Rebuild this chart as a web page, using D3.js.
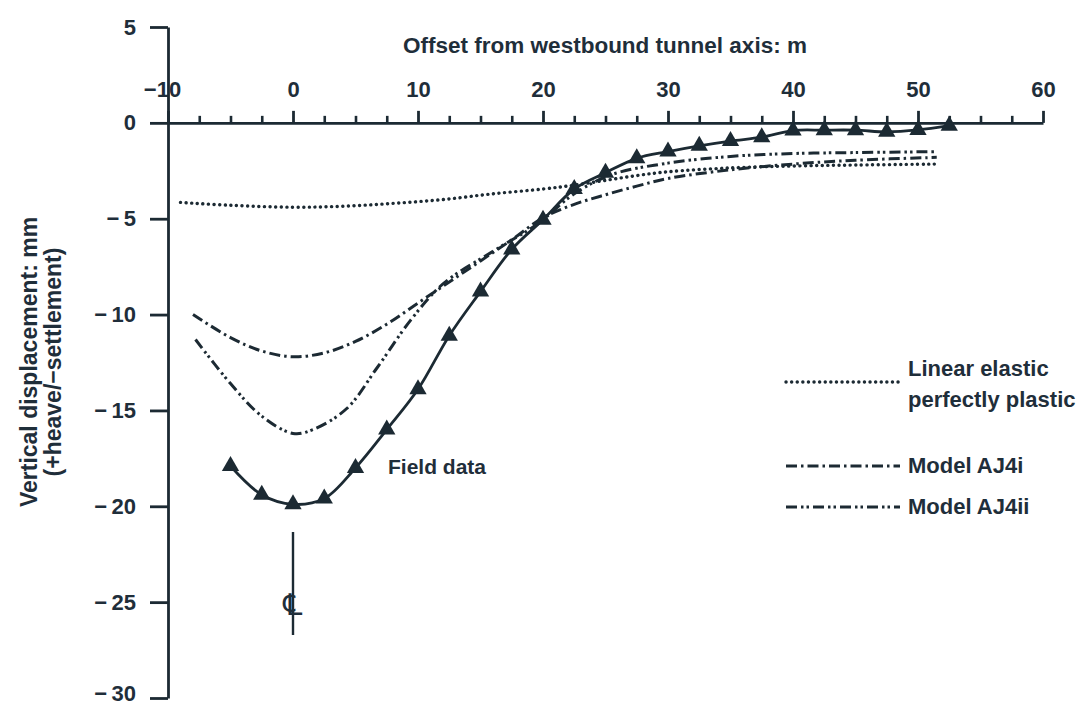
<!DOCTYPE html>
<html>
<head>
<meta charset="utf-8">
<script src="https://cdn.jsdelivr.net/npm/d3@7"></script>
<style>
  html, body { margin: 0; padding: 0; background: #ffffff; }
  svg { display: block; }
  text { font-family: "Liberation Sans", Arial, sans-serif; fill: #1f2e3a; }
</style>
</head>
<body>
<svg id="chart" width="1083" height="706"></svg>
<script>
// Surface settlement trough above the westbound tunnel
const xTicks = [-10, 0, 10, 20, 30, 40, 50, 60];
const xMinorTicks = [-7.5, -5, -2.5, 2.5, 5, 7.5, 12.5, 15, 17.5, 22.5, 25, 27.5, 32.5, 35, 37.5, 42.5, 45, 47.5, 52.5, 55, 57.5];
const yTicks = [5, 0, -5, -10, -15, -20, -25, -30];

// Field data (measured)
const fieldX = [-5, -2.5, 0, 2.5, 5, 7.5, 10, 12.5, 15, 17.5, 20, 22.5, 25, 27.5, 30, 32.5, 35, 37.5, 40, 42.5, 45, 47.5, 50, 52.5];
const fieldY = [-17.9, -19.4, -19.9, -19.6, -18.0, -16.0, -13.9, -11.1, -8.8, -6.6, -5.05, -3.45, -2.6, -1.85, -1.5, -1.2, -0.95, -0.75, -0.4, -0.38, -0.38, -0.47, -0.37, -0.15];

// Linear elastic perfectly plastic
const lepX = [-9, -5, 0, 4, 8, 12, 16, 20, 22.5, 25, 27.5, 30, 35, 40, 45, 51.5];
const lepY = [-4.15, -4.3, -4.4, -4.35, -4.2, -4.0, -3.7, -3.45, -3.25, -3.0, -2.75, -2.55, -2.35, -2.25, -2.2, -2.15];

// Model AJ4i
const aj4iX = [-8, -5, -2.5, 0, 2.5, 5, 7.5, 10, 12.5, 15, 17.5, 20, 22.5, 25, 27.5, 30, 35, 40, 45, 51.5];
const aj4iY = [-10.0, -11.2, -11.9, -12.2, -12.0, -11.4, -10.5, -9.4, -8.3, -7.2, -6.1, -4.95, -4.25, -3.75, -3.3, -2.9, -2.45, -2.15, -1.95, -1.8];

// Model AJ4ii
const aj4iiX = [-7.8, -5, -2.5, 0, 1.6, 4.3, 6.7, 9.4, 12, 16, 19.5, 22.5, 25.5, 30, 35, 40, 45, 51.5];
const aj4iiY = [-11.3, -13.6, -15.3, -16.2, -16.0, -14.9, -12.8, -10.3, -8.4, -6.7, -5.3, -3.7, -2.7, -2.1, -1.75, -1.6, -1.55, -1.5];

const legendLabels = [["Linear elastic", "perfectly plastic"], ["Model AJ4i"], ["Model AJ4ii"]];

const ink = "#1c2a33";
const svg = d3.select("#chart");

const x = d3.scaleLinear().domain([-10, 60]).range([168, 1043]);
const y = d3.scaleLinear().domain([-30, 5]).range([698, 27]);

const fmtMinus = d => d < 0 ? "\u2212\u2009" + Math.abs(d) : String(d);

// Horizontal axis along zero displacement, ticks pointing up
const xAxis = svg.append("g")
  .attr("transform", `translate(0,${y(0)})`)
  .call(d3.axisTop(x).tickValues(xTicks).tickSize(12).tickSizeOuter(0).tickPadding(14)
    .tickFormat(d => d < 0 ? "\u2212" + Math.abs(d) : d));
xAxis.select(".domain").attr("stroke", ink).attr("stroke-width", 2.8);
xAxis.selectAll(".tick line").attr("stroke", ink).attr("stroke-width", 2.8);
xAxis.selectAll(".tick text").attr("font-size", 22).attr("font-weight", "bold")
  .attr("fill", "#1f2e3a").attr("font-family", "Liberation Sans, Arial, sans-serif");
xAxis.select(".tick text").attr("dx", -6);

const xMinor = svg.append("g")
  .attr("transform", `translate(0,${y(0)})`)
  .call(d3.axisTop(x).tickValues(xMinorTicks).tickSize(7).tickSizeOuter(0).tickFormat(""));
xMinor.select(".domain").remove();
xMinor.selectAll(".tick line").attr("stroke", ink).attr("stroke-width", 2.6);

// Vertical axis
const yAxis = svg.append("g")
  .attr("transform", `translate(${x(-10)},0)`)
  .call(d3.axisLeft(y).tickValues(yTicks).tickSize(18).tickSizeOuter(0).tickPadding(14)
    .tickFormat(fmtMinus));
yAxis.select(".domain").attr("stroke", ink).attr("stroke-width", 2.8);
yAxis.selectAll(".tick line").attr("stroke", ink).attr("stroke-width", 2.8);
yAxis.selectAll(".tick text").attr("font-size", 22).attr("font-weight", "bold")
  .attr("fill", "#1f2e3a").attr("font-family", "Liberation Sans, Arial, sans-serif");
// keep the lowest label inside the frame
yAxis.selectAll(".tick text").filter(d => d === -30).attr("dy", "0.1em");

// Axis titles
svg.append("text")
  .attr("x", 605).attr("y", 53)
  .attr("text-anchor", "middle").attr("font-size", 22.5).attr("font-weight", "bold")
  .text("Offset from westbound tunnel axis: m");

const yTitle = svg.append("g").attr("transform", `translate(29,362) rotate(-90)`);
yTitle.append("text").attr("x", 0).attr("y", 8)
  .attr("text-anchor", "middle").attr("font-size", 23).attr("font-weight", "bold")
  .text("Vertical displacement: mm");
yTitle.append("text").attr("x", 0).attr("y", 32)
  .attr("text-anchor", "middle").attr("font-size", 23).attr("font-weight", "bold")
  .text("(+heave/\u2212settlement)");

// Curves
const line = d3.line().curve(d3.curveCatmullRom.alpha(0.5)).x(d => x(d[0])).y(d => y(d[1]));
const zipXY = (xs, ys) => xs.map((v, i) => [v, ys[i]]);

const styles = {
  lep:   { dash: "0.1,5.5", cap: "round", width: 3.4 },
  aj4i:  { dash: "11,4,2.5,4", cap: "butt", width: 3 },
  aj4ii: { dash: "11,4,2.5,3,2.5,4", cap: "butt", width: 3 }
};

function drawCurve(data, st) {
  svg.append("path")
    .datum(data)
    .attr("fill", "none")
    .attr("stroke", ink)
    .attr("stroke-width", st.width)
    .attr("stroke-dasharray", st.dash)
    .attr("stroke-linecap", st.cap)
    .attr("d", line);
}

drawCurve(zipXY(lepX, lepY), styles.lep);
drawCurve(zipXY(aj4iX, aj4iY), styles.aj4i);
drawCurve(zipXY(aj4iiX, aj4iiY), styles.aj4ii);

// Field data line and triangle markers
const field = zipXY(fieldX, fieldY);
svg.append("path").datum(field)
  .attr("fill", "none").attr("stroke", ink).attr("stroke-width", 2.8)
  .attr("d", line);
svg.append("g").selectAll("path").data(field).join("path")
  .attr("transform", d => `translate(${x(d[0])},${y(d[1])})`)
  .attr("d", d3.symbol(d3.symbolTriangle, 130))
  .attr("fill", ink);

svg.append("text")
  .attr("x", x(7.6)).attr("y", y(-17.9) + 8)
  .attr("font-size", 21).attr("font-weight", "bold")
  .text("Field data");

// Tunnel centre line marker
svg.append("line")
  .attr("x1", x(0)).attr("x2", x(0)).attr("y1", 532).attr("y2", 635)
  .attr("stroke", ink).attr("stroke-width", 2.4);
svg.append("text").attr("x", x(0)).attr("y", 615)
  .attr("text-anchor", "middle").attr("font-size", 30)
  .style("font-family", "DejaVu Sans, sans-serif")
  .text("\u2104");

// Legend
const legendY = [382, 466, 507];
const legendStyles = [styles.lep, styles.aj4i, styles.aj4ii];
legendLabels.forEach((lab, i) => {
  const st = legendStyles[i];
  svg.append("line")
    .attr("x1", 786).attr("x2", 900).attr("y1", legendY[i]).attr("y2", legendY[i])
    .attr("stroke", ink).attr("stroke-width", st.width)
    .attr("stroke-dasharray", st.dash).attr("stroke-linecap", st.cap);
  const t = svg.append("text").attr("x", 908).attr("y", legendY[i] - (lab.length > 1 ? 6 : -7))
    .attr("font-size", 22).attr("font-weight", "bold");
  lab.forEach((s, j) => {
    t.append("tspan").attr("x", 908).attr("dy", j === 0 ? 0 : 31).text(s);
  });
});
</script>
</body>
</html>
